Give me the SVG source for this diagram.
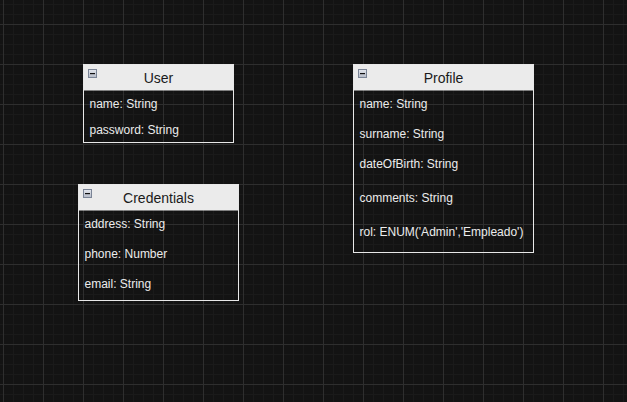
<svg xmlns="http://www.w3.org/2000/svg" width="627" height="402" viewBox="0 0 627 402">
  <defs>
    <pattern id="minor" x="3" y="4" width="10" height="10" patternUnits="userSpaceOnUse">
      <path d="M0.5 0V10M0 0.5H10" stroke="#1a1a1a" stroke-width="1" fill="none"/>
    </pattern>
    <pattern id="major" x="3" y="24" width="40" height="40" patternUnits="userSpaceOnUse">
      <path d="M0.5 0V40M0 0.5H40" stroke="#2e2e2e" stroke-width="1" fill="none"/>
    </pattern>
    <linearGradient id="iconGrad" x1="0" y1="0" x2="0" y2="1">
      <stop offset="0" stop-color="#e4e7ee"/>
      <stop offset="1" stop-color="#b4bac6"/>
    </linearGradient>
    <g id="collapse">
      <rect x="0.5" y="0.5" width="8" height="8" fill="url(#iconGrad)" stroke="#7a8496" stroke-width="1"/>
      <rect x="2" y="4" width="5" height="1.2" fill="#111"/>
    </g>
  </defs>
  <style>
    .frame { fill: none; stroke: #e8e8e8; stroke-width: 1; }
    .head { fill: #ebebeb; }
    .title { font-family: "Liberation Sans", Arial, sans-serif; font-size: 14px; fill: #1a1a1a; text-anchor: middle; }
    .attr { font-family: "Liberation Sans", Arial, sans-serif; font-size: 12px; fill: #ececec; }
  </style>
  <rect width="627" height="402" fill="#131313"/>
  <rect width="627" height="402" fill="url(#minor)"/>
  <rect width="627" height="402" fill="url(#major)"/>

  <g id="connectors"></g>

  <g id="User">
    <rect class="head" x="83.5" y="64.5" width="150" height="26"/>
    <rect class="frame" x="83.5" y="64.5" width="150" height="78"/>
    <use href="#collapse" x="88" y="69"/>
    <text class="title" x="158.5" y="82.5">User</text>
    <text class="attr" x="89.5" y="108">name: String</text>
    <text class="attr" x="89.5" y="133.5">password: String</text>
  </g>

  <g id="Credentials">
    <rect class="head" x="78.5" y="184.5" width="160" height="26"/>
    <rect class="frame" x="78.5" y="184.5" width="160" height="116"/>
    <use href="#collapse" x="83" y="189"/>
    <text class="title" x="158.5" y="202.5">Credentials</text>
    <text class="attr" x="84.5" y="228">address: String</text>
    <text class="attr" x="84.5" y="258">phone: Number</text>
    <text class="attr" x="84.5" y="288">email: String</text>
  </g>

  <g id="Profile">
    <rect class="head" x="353.5" y="64.5" width="180" height="26"/>
    <rect class="frame" x="353.5" y="64.5" width="180" height="188"/>
    <use href="#collapse" x="358" y="69"/>
    <text class="title" x="443.5" y="82.5">Profile</text>
    <text class="attr" x="359.5" y="108">name: String</text>
    <text class="attr" x="359.5" y="138">surname: String</text>
    <text class="attr" x="359.5" y="168">dateOfBirth: String</text>
    <text class="attr" x="359.5" y="202">comments: String</text>
    <text class="attr" x="359.5" y="236">rol: ENUM('Admin','Empleado')</text>
  </g>
</svg>
